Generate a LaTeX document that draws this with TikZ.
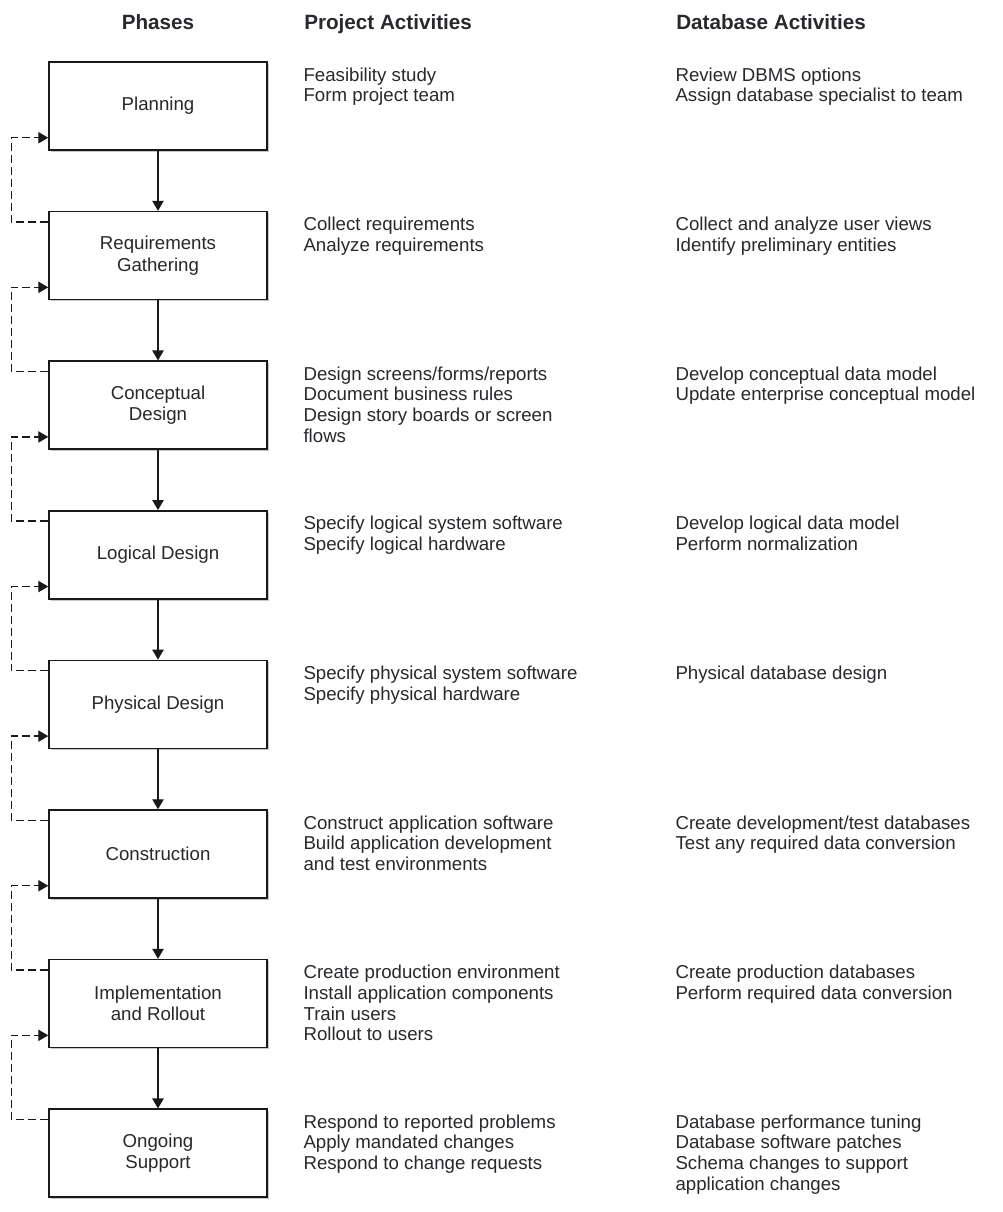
\documentclass[tikz,border=0pt]{standalone}
\usepackage{fontspec}
\setmainfont{Liberation Sans}
\usetikzlibrary{arrows.meta, positioning, calc, shadows}
\definecolor{mydark}{RGB}{40,40,45}
\definecolor{myline}{RGB}{25,25,25}
\tikzset{
  phase/.style={rectangle, draw=myline, fill=white, minimum width=163.5pt,
    minimum height=66pt, align=center, text=mydark, line width=1.1pt,
    font=\fontsize{14}{16}\selectfont,
    drop shadow={shadow xshift=1.3pt, shadow yshift=-1.3pt, opacity=0.22, fill=black}},
  act/.style={anchor=north west, inner sep=0pt, align=left, text=mydark,
    font=\fontsize{14}{15.5}\selectfont},
  header/.style={inner sep=0pt, text=mydark, font=\fontsize{15.5}{18}\selectfont\bfseries},
  flow/.style={-{Triangle[length=7.5pt,width=8.5pt]}, line width=1pt, color=myline},
  backflow/.style={-{Triangle[length=7.5pt,width=8.5pt]}, line width=1pt, color=myline,
    dash pattern=on 6pt off 3pt}
}

\begin{document}
\begin{tikzpicture}[x=0.75pt, y=-0.75pt]
  \useasboundingbox (0,0) rectangle (1002,1212);

  % Column headers
  \node[header, anchor=base] (hphase) at (158,30) {Phases};
  \node[header, anchor=base west] (hproj) at (304,30) {Project Activities};
  \node[header, anchor=base west] (hdb) at (676,30) {Database Activities};

  % Phase boxes
  \node[phase] (b1) at (158,106.0) {Planning};
  \node[phase] (b2) at (158,255.6) {Requirements\\Gathering};
  \node[phase] (b3) at (158,405.2) {Conceptual\\Design};
  \node[phase] (b4) at (158,554.8) {Logical Design};
  \node[phase] (b5) at (158,704.4) {Physical Design};
  \node[phase] (b6) at (158,854.0) {Construction};
  \node[phase] (b7) at (158,1003.6) {Implementation\\and Rollout};
  \node[phase] (b8) at (158,1153.2) {Ongoing\\Support};

  % Project activities
  \node[act] (p1) at ($(b1.north west)+(255,6)$) {Feasibility study\\Form project team};
  \node[act] (p2) at ($(b2.north west)+(255,6)$) {Collect requirements\\Analyze requirements};
  \node[act] (p3) at ($(b3.north west)+(255,6)$) {Design screens/forms/reports\\Document business rules\\Design story boards or screen\\flows};
  \node[act] (p4) at ($(b4.north west)+(255,6)$) {Specify logical system software\\Specify logical hardware};
  \node[act] (p5) at ($(b5.north west)+(255,6)$) {Specify physical system software\\Specify physical hardware};
  \node[act] (p6) at ($(b6.north west)+(255,6)$) {Construct application software\\Build application development\\and test environments};
  \node[act] (p7) at ($(b7.north west)+(255,6)$) {Create production environment\\Install application components\\Train users\\Rollout to users};
  \node[act] (p8) at ($(b8.north west)+(255,6)$) {Respond to reported problems\\Apply mandated changes\\Respond to change requests};

  % Database activities
  \node[act] (d1) at ($(b1.north west)+(627,6)$) {Review DBMS options\\Assign database specialist to team};
  \node[act] (d2) at ($(b2.north west)+(627,6)$) {Collect and analyze user views\\Identify preliminary entities};
  \node[act] (d3) at ($(b3.north west)+(627,6)$) {Develop conceptual data model\\Update enterprise conceptual model};
  \node[act] (d4) at ($(b4.north west)+(627,6)$) {Develop logical data model\\Perform normalization};
  \node[act] (d5) at ($(b5.north west)+(627,6)$) {Physical database design};
  \node[act] (d6) at ($(b6.north west)+(627,6)$) {Create development/test databases\\Test any required data conversion};
  \node[act] (d7) at ($(b7.north west)+(627,6)$) {Create production databases\\Perform required data conversion};
  \node[act] (d8) at ($(b8.north west)+(627,6)$) {Database performance tuning\\Database software patches\\Schema changes to support\\application changes};

  % Forward flow and feedback loops
  \foreach \a/\b in {b1/b2, b2/b3, b3/b4, b4/b5, b5/b6, b6/b7, b7/b8} {
    \draw[flow] (\a.south) -- (\b.north);
    \draw[backflow] ($(\b.north west)+(0,11)$) -- ++(-37,0) |- ($(\a.south west)+(0,-13)$);
  }
\end{tikzpicture}
\end{document}
